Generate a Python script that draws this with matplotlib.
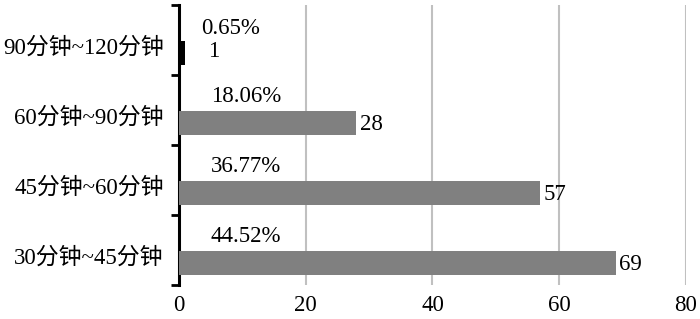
import matplotlib.pyplot as plt
import numpy as np

categories = ["30分钟~45分钟", "45分钟~60分钟", "60分钟~90分钟", "90分钟~120分钟"]
counts = [69, 57, 28, 1]
percents = ["44.52%", "36.77%", "18.06%", "0.65%"]
colors = ["#808080", "#808080", "#808080", "#000000"]

plt.rcParams["font.family"] = ["Liberation Serif", "Noto Sans CJK SC"]
plt.rcParams["font.size"] = 16.5

fig = plt.figure(figsize=(7, 3.19), dpi=100)
ax = fig.add_axes([0.2557, 0.1066, 0.7243, 0.8777])

y = np.arange(len(categories))
ax.barh(y - 0.19, counts, height=0.34, color=colors, zorder=3)

for i, (c, p) in enumerate(zip(counts, percents)):
    if c < 5:
        ax.text(c + 4.5, i - 0.17, str(c), va="center", ha="center")
        ax.text(8.2, i + 0.17, p, va="center", ha="center")
    else:
        ax.text(c + 0.5, i - 0.21, str(c), va="center", ha="left")
        ax.text(10.6, i + 0.19, p, va="center", ha="center")

ax.set_xlim(0, 80)
ax.set_ylim(-0.5, 3.5)
ax.set_xticks([0, 20, 40, 60, 80])
ax.tick_params(axis="x", length=0, pad=7)
ax.set_yticks(y - 0.08)
ax.set_yticklabels(categories)
ax.tick_params(axis="y", which="major", length=0, pad=11)
ax.set_yticks(np.arange(-0.5, 4, 1), minor=True)
ax.tick_params(axis="y", which="minor", length=6, width=2)
ax.xaxis.grid(True, color="#c0c0c0", linewidth=1.5, zorder=0)
for s in ["top", "right", "bottom"]:
    ax.spines[s].set_visible(False)
ax.spines["left"].set_linewidth(2.2)

fig.savefig("out.png", dpi=100)
